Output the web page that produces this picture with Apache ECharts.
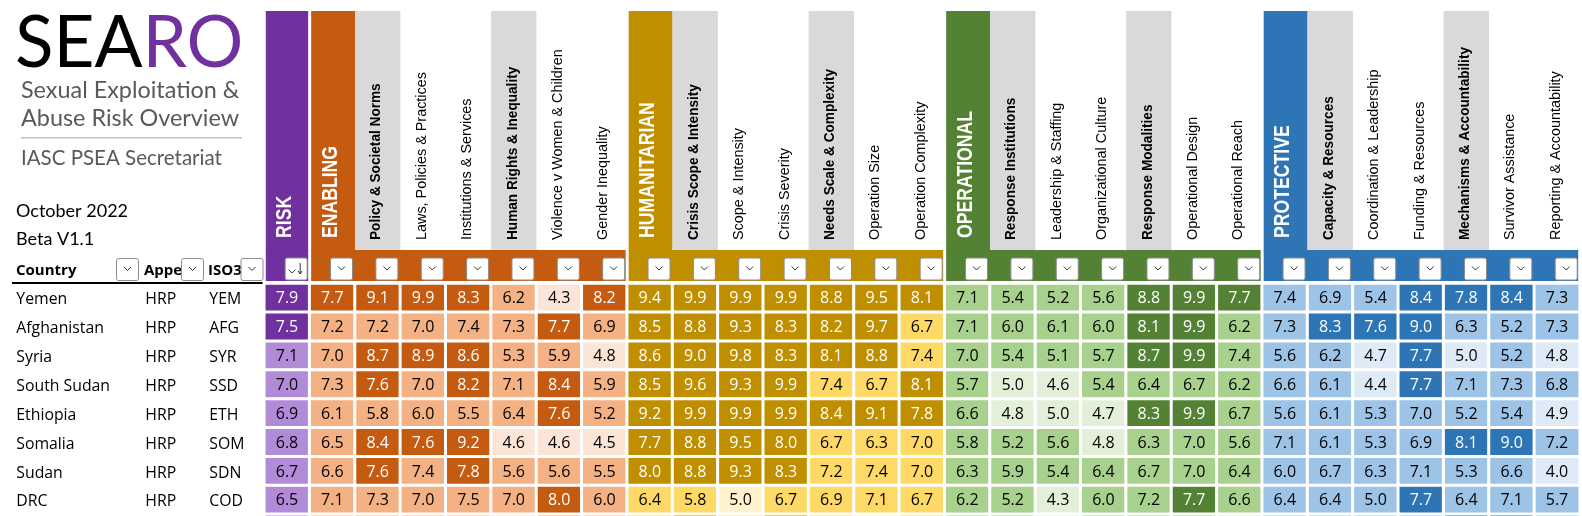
<!DOCTYPE html>
<html>
<head>
<meta charset="utf-8">
<style>html,body{margin:0;padding:0;background:#fff}#chart{width:1582px;height:516px}</style>
<script src="https://cdn.jsdelivr.net/npm/echarts@6/dist/echarts.min.js"></script>
</head>
<body>
<div id="chart"></div>
<script>
// row labels, last row is cut off by the bottom of the picture
var countries = ['Yemen', 'Afghanistan', 'Syria', 'South Sudan', 'Ethiopia', 'Somalia', 'Sudan', 'DRC', ''];
var appeals = ['HRP', 'HRP', 'HRP', 'HRP', 'HRP', 'HRP', 'HRP', 'HRP', ''];
var isoCodes = ['YEM', 'AFG', 'SYR', 'SSD', 'ETH', 'SOM', 'SDN', 'COD', ''];

var riskHeaders = ['RISK'];
var enablingHeaders = ['ENABLING', 'Policy & Societal Norms', 'Laws, Policies & Practices', 'Institutions & Services', 'Human Rights & Inequality', 'Violence v Women & Children', 'Gender Inequality'];
var humanitarianHeaders = ['HUMANITARIAN', 'Crisis Scope & Intensity', 'Scope & Intensity', 'Crisis Severity', 'Needs Scale & Complexity', 'Operation Size', 'Operation Complexity'];
var operationalHeaders = ['OPERATIONAL', 'Response Institutions', 'Leadership & Staffing', 'Organizational Culture', 'Response Modalities', 'Operational Design', 'Operational Reach'];
var protectiveHeaders = ['PROTECTIVE', 'Capacity & Resources', 'Coordination & Leadership', 'Funding & Resources', 'Mechanisms & Accountability', 'Survivor Assistance', 'Reporting & Accountability'];

// the sheet rounds to 1 decimal, x.x6 style values sit just under a colour break
var riskRows = [[7.9], [7.5], [7.1], [7.0], [6.9], [6.8], [6.7], [6.5], [6.4]];
var enablingRows = [
  [7.7, 9.1, 9.9, 8.3, 6.2, 4.3, 8.2],
  [7.2, 7.2, 7.0, 7.4, 7.3, 7.7, 6.9],
  [7.0, 8.7, 8.9, 8.6, 5.3, 5.9, 4.8],
  [7.3, 7.6, 7.0, 8.2, 7.1, 8.4, 5.9],
  [6.1, 5.8, 6.0, 5.5, 6.4, 7.6, 5.2],
  [6.5, 8.4, 7.6, 9.2, 4.6, 4.6, 4.5],
  [6.6, 7.6, 7.4, 7.8, 5.6, 5.6, 5.5],
  [7.1, 7.3, 7.0, 7.46, 7.0, 8.0, 6.0],
  [6.5, 6.0, 6.6, 6.2, 4.5, 6.1, 5.5]
];
var humanitarianRows = [
  [9.4, 9.9, 9.9, 9.9, 8.8, 9.5, 8.1],
  [8.5, 8.8, 9.3, 8.3, 8.2, 9.7, 6.7],
  [8.6, 9.0, 9.8, 8.3, 8.1, 8.8, 7.4],
  [8.5, 9.6, 9.3, 9.9, 7.4, 6.7, 8.1],
  [9.2, 9.9, 9.9, 9.9, 8.4, 9.1, 7.8],
  [7.7, 8.8, 9.5, 8.0, 6.7, 6.3, 7.0],
  [8.0, 8.8, 9.3, 8.3, 7.2, 7.4, 7.0],
  [6.4, 5.8, 4.96, 6.7, 6.9, 7.1, 6.7],
  [7.0, 7.9, 6.6, 7.8, 6.4, 4.8, 6.0]
];
var operationalRows = [
  [7.1, 5.4, 5.2, 5.6, 8.8, 9.9, 7.7],
  [7.1, 6.0, 6.1, 6.0, 8.1, 9.9, 6.2],
  [7.0, 5.4, 5.1, 5.7, 8.7, 9.9, 7.4],
  [5.7, 4.96, 4.6, 5.4, 6.4, 6.7, 6.2],
  [6.6, 4.8, 4.96, 4.7, 8.3, 9.9, 6.7],
  [5.8, 5.2, 5.6, 4.8, 6.3, 7.0, 5.6],
  [6.3, 5.9, 5.4, 6.4, 6.7, 7.0, 6.4],
  [6.2, 5.2, 4.3, 6.0, 7.2, 7.7, 6.6],
  [6.0, 5.8, 4.7, 6.1, 6.5, 7.0, 4.9]
];
var protectiveRows = [
  [7.4, 6.9, 5.4, 8.4, 7.8, 8.4, 7.3],
  [7.3, 8.3, 7.6, 9.0, 6.3, 5.2, 7.3],
  [5.6, 6.2, 4.7, 7.7, 4.96, 5.2, 4.8],
  [6.6, 6.1, 4.4, 7.7, 7.1, 7.3, 6.8],
  [5.6, 6.1, 5.3, 7.0, 5.2, 5.4, 4.9],
  [7.1, 6.1, 5.3, 6.9, 8.1, 9.0, 7.2],
  [6.0, 6.7, 6.3, 7.1, 5.3, 6.6, 4.0],
  [6.4, 6.4, 5.0, 7.7, 6.4, 7.1, 5.7],
  [6.1, 5.9, 6.2, 6.6, 8.0, 8.2, 6.0]
];

// pale, mid, dark
var riskColors = ['#E4D5F2', '#B28BD8', '#7030A0'];
var enablingColors = ['#FBE5D6', '#F4B183', '#C55A11'];
var humanitarianColors = ['#FFF2CC', '#FFD966', '#BF8F00'];
var operationalColors = ['#E2F0D9', '#A9D18E', '#548235'];
var protectiveColors = ['#DEEBF7', '#9DC3E6', '#2E75B6'];

var paleBelow = 5;
var darkFrom = 7.5;

// sub-index columns with the grey header
var greyHeaders = ['Policy & Societal Norms', 'Human Rights & Inequality', 'Crisis Scope & Intensity', 'Needs Scale & Complexity',
  'Response Institutions', 'Response Modalities', 'Capacity & Resources', 'Mechanisms & Accountability'];

var groups = [
  { headers: riskHeaders, rows: riskRows, colors: riskColors },
  { headers: enablingHeaders, rows: enablingRows, colors: enablingColors },
  { headers: humanitarianHeaders, rows: humanitarianRows, colors: humanitarianColors },
  { headers: operationalHeaders, rows: operationalRows, colors: operationalColors },
  { headers: protectiveHeaders, rows: protectiveRows, colors: protectiveColors }
];

var gridLeft = 264.3;
var gridWidth = 1315.4;
var bodyFont = '"Open Sans"';
var headFont = '"Liberation Sans"';

// flat list of columns for the header grid
var columns = [];
var series = [];
var visualMaps = [];
var start = 0;
groups.forEach(function (g, gi) {
  var data = [];
  g.rows.forEach(function (row, r) {
    row.forEach(function (v, c) {
      data.push({
        value: [start + c, r, v],
        label: { color: v >= darkFrom ? '#fff' : '#000' }
      });
    });
  });
  g.headers.forEach(function (h, c) {
    columns.push({ name: h, first: c === 0, color: g.colors[2], from: start, to: start + g.headers.length - 1 });
  });
  series.push({
    type: 'heatmap',
    xAxisIndex: 0,
    yAxisIndex: 0,
    data: data,
    silent: true,
    itemStyle: { borderColor: '#fff', borderWidth: 3 },
    label: {
      show: true,
      fontFamily: bodyFont,
      fontSize: 16,
      offset: [0, 1],
      formatter: function (p) { return p.value[2].toFixed(1); }
    }
  });
  visualMaps.push({
    type: 'piecewise',
    show: false,
    seriesIndex: gi,
    dimension: 2,
    pieces: [
      { lt: paleBelow, color: g.colors[0] },
      { gte: paleBelow, lt: darkFrom, color: g.colors[1] },
      { gte: darkFrom, color: g.colors[2] }
    ]
  });
  start += g.headers.length;
});

var columnNames = columns.map(function (c) { return c.name; });

function chevron(cx, cy) {
  return {
    type: 'polyline',
    shape: { points: [[cx - 3.5, cy - 1.5], [cx, cy + 2], [cx + 3.5, cy - 1.5]] },
    style: { fill: null, stroke: '#333', lineWidth: 1 }
  };
}

function filterButton(x, y, sorted) {
  var parts = [{
    type: 'rect',
    shape: { x: x, y: y, width: 22, height: 22, r: 2 },
    style: { fill: '#fff', stroke: '#8c8c8c', lineWidth: 1 }
  }];
  if (sorted) {
    parts.push(chevron(x + 7, y + 13));
    parts.push({ type: 'line', shape: { x1: x + 15, y1: y + 5, x2: x + 15, y2: y + 16 }, style: { stroke: '#333', lineWidth: 1 } });
    parts.push({ type: 'polyline', shape: { points: [[x + 13, y + 13], [x + 15, y + 16], [x + 17, y + 13]] }, style: { fill: null, stroke: '#333', lineWidth: 1 } });
  } else {
    parts.push(chevron(x + 11, y + 10));
  }
  return parts;
}

// header block: colour bands, grey cells, rotated names, filter buttons
function renderHeader(params, api) {
  var i = api.value(0);
  var col = columns[i];
  var band = api.size([1, 0])[0];
  var left = api.coord([i, 0])[0] - band / 2;
  var right = left + band;
  var children = [];
  if (col.first) {
    var bandEnd = left + band * (col.to - col.from + 1) - 1.5;
    children.push({ type: 'rect', shape: { x: left + 1.5, y: 250, width: bandEnd - left - 1.5, height: 31 }, style: { fill: col.color } });
    children.push({ type: 'rect', shape: { x: left + 1.5, y: 11, width: col.to === col.from ? band - 3 : band - 1.5, height: 240 }, style: { fill: col.color } });
  } else if (greyHeaders.indexOf(col.name) >= 0) {
    children.push({ type: 'rect', shape: { x: left, y: 11, width: band, height: 239 }, style: { fill: '#D9D9D9' } });
  }
  var isGrey = greyHeaders.indexOf(col.name) >= 0;
  // the sheet's rotated text is tall and squeezed along its length
  var size = col.first ? 21.5 : 15.4;
  var squeeze = col.first ? 0.82 : (isGrey ? 0.885 : 0.935);
  children.push({
    type: 'text',
    x: left + band / 2 - 1.5,
    y: col.first ? 238 : 240,
    rotation: Math.PI / 2,
    scaleX: squeeze,
    style: {
      text: col.name,
      fontFamily: headFont,
      fontSize: size,
      fontWeight: col.first || isGrey ? 'bold' : 'normal',
      fill: col.first ? '#fff' : '#000',
      align: 'left',
      verticalAlign: 'middle'
    }
  });
  children = children.concat(filterButton(right - 24.5, 258, i === 0));
  return { type: 'group', children: children };
}

series.push({
  type: 'custom',
  xAxisIndex: 1,
  yAxisIndex: 1,
  silent: true,
  clip: false,
  data: columns.map(function (c, i) { return [i, 0]; }),
  encode: { x: 0, y: 1 },
  renderItem: renderHeader
});

function plainText(text, x, y, size, fill, weight, family) {
  return {
    type: 'text',
    x: x,
    y: y,
    style: { text: text, fontFamily: family || bodyFont, fontSize: size, fontWeight: weight || 'normal', fill: fill, align: 'left', verticalAlign: 'middle' }
  };
}

function buttonGraphics(x, y) {
  return filterButton(x, y, false).map(function (p) { p.z = 10; return p; });
}

var chart = echarts.init(document.getElementById('chart'), null, { renderer: 'canvas' });
chart.setOption({
  animation: false,
  backgroundColor: '#fff',
  tooltip: { show: false },
  visualMap: visualMaps,
  grid: [
    // last row runs past the canvas on purpose
    { left: gridLeft, width: gridWidth, top: 283.5, height: 259.7, outerBoundsMode: 'none' },
    { left: gridLeft, width: gridWidth, top: 11, height: 270, outerBoundsMode: 'none' }
  ],
  xAxis: [
    { type: 'category', gridIndex: 0, data: columnNames, show: false },
    { type: 'category', gridIndex: 1, data: columnNames, show: false }
  ],
  yAxis: [
    {
      type: 'category',
      gridIndex: 0,
      inverse: true,
      data: countries.map(function (c, i) { return i; }),
      axisLine: { show: false },
      axisTick: { show: false },
      splitLine: { show: false },
      axisLabel: {
        show: true,
        interval: 0,
        align: 'left',
        margin: 248,
        padding: [4, 0, 0, 0],
        formatter: function (v, i) {
          return '{c|' + countries[i] + '}{a|' + appeals[i] + '}{i|' + isoCodes[i] + '}';
        },
        rich: {
          c: { width: 129, align: 'left', fontFamily: bodyFont, fontSize: 15.8, color: '#000' },
          a: { width: 64, align: 'left', fontFamily: bodyFont, fontSize: 15.8, color: '#000' },
          i: { width: 50, align: 'left', fontFamily: bodyFont, fontSize: 15.8, color: '#000' }
        }
      }
    },
    { type: 'value', gridIndex: 1, min: 0, max: 1, show: false }
  ],
  series: series,
  graphic: {
    elements: [
      {
        type: 'text',
        x: 15,
        y: 44,
        style: {
          text: '{a|SEA}{b|RO}',
          verticalAlign: 'middle',
          rich: {
            a: { fontFamily: 'Lato', fontSize: 71, fill: '#000' },
            b: { fontFamily: 'Lato', fontSize: 71, fill: '#7030A0' }
          }
        }
      },
      plainText('Sexual Exploitation &', 21, 90, 23.4, '#595959', 'normal', 'Lato'),
      plainText('Abuse Risk Overview', 21, 118, 23.4, '#595959', 'normal', 'Lato'),
      { type: 'rect', shape: { x: 21, y: 137, width: 221, height: 1.5 }, style: { fill: '#BFBFBF' } },
      plainText('IASC PSEA Secretariat', 21, 158, 20.5, '#595959', 'normal', 'Lato'),
      plainText('October 2022', 16, 211, 18, '#000', 'normal', 'Lato'),
      plainText('Beta V1.1', 16, 239, 18, '#000', 'normal', 'Lato'),
      plainText('Country', 16, 271, 15, '#000', 'bold'),
      plainText('Appe', 144, 271, 15, '#000', 'bold'),
      plainText('ISO3', 208, 271, 15, '#000', 'bold'),
      { type: 'rect', shape: { x: 12, y: 282, width: 253, height: 2 }, style: { fill: '#000' } }
    ].concat(buttonGraphics(116.5, 258.5), buttonGraphics(181.5, 258.5), buttonGraphics(241, 258.5))
  }
});
</script>
</body>
</html>
